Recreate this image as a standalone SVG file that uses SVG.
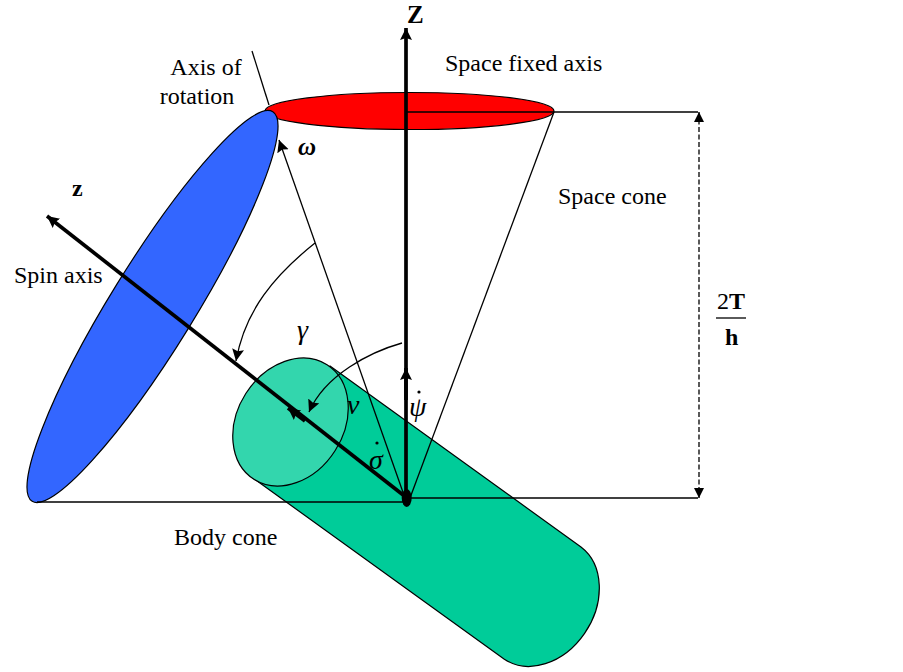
<svg xmlns="http://www.w3.org/2000/svg" width="903" height="672" viewBox="0 0 903 672">
<style>
text{font-family:"Liberation Serif","Times New Roman",serif;font-size:24px;fill:#000}
.b{font-weight:bold}
.i{font-style:italic;font-size:28px}
.s{fill:none;stroke:#000;stroke-width:1.3}
.t{fill:none;stroke:#000;stroke-width:3.7}
.o{stroke:#000;stroke-width:1.2}
</style>
<defs>
<marker id="a" markerUnits="userSpaceOnUse" markerWidth="14" markerHeight="14" refX="12" refY="6" orient="auto"><path d="M0 0L12 6L0 12L2 6Z" fill="#000"/></marker>
<marker id="d" markerUnits="userSpaceOnUse" markerWidth="12" markerHeight="12" refX="10" refY="5" orient="auto-start-reverse"><path d="M0 0L10 5L0 10Z" fill="#000"/></marker>
</defs>
<rect width="903" height="672" fill="#fff"/>
<g id="body-cylinder">
<path class="o" fill="#00CC99" d="M330 366L581 547A68 53 -57.500 0 1 504 659L253 478Z"/>
<ellipse class="o" fill="#33D6AD" cx="290.500" cy="422" rx="68" ry="53" transform="rotate(-57.500 290.500 422)"/>
</g>
<g id="space-cone-disc">
<ellipse class="o" fill="#FF0000" cx="409.500" cy="111" rx="144.500" ry="18.500"/>
</g>
<g id="body-cone-disc">
<ellipse class="o" fill="#3366FF" cx="152.500" cy="306.500" rx="229" ry="42" transform="rotate(-58.300 152.500 306.500)"/>
</g>
<g id="connectors">
<path class="s" d="M252 51L269 105"/>
<path class="s" d="M407 112H698"/>
<path class="s" d="M37 502H407"/>
<path class="s" d="M407 498H698"/>
<path class="s" d="M554 112L410 498"/>
<path class="s" d="M405 498L279 140" marker-end="url(#a)"/>
<path class="s" d="M315 243C275 275 245 310 236 361" marker-end="url(#a)"/>
<path class="s" d="M402 343C370 352 325 375 309 412" marker-end="url(#a)"/>
<path class="s" stroke-width="1.500" stroke-dasharray="5 2.500" d="M699 112V498" marker-start="url(#d)" marker-end="url(#d)"/>
<path class="t" d="M406 498V28" marker-end="url(#a)"/>
<path class="t" d="M406 400V368" marker-end="url(#a)"/>
<path class="t" d="M407 498L47 216" marker-end="url(#a)"/>
<path class="t" d="M305 421L288 408" marker-end="url(#a)"/>
<ellipse cx="406.700" cy="498" rx="5" ry="9" fill="#000"/>
</g>
<g id="labels">
<text x="206" y="75" text-anchor="middle">Axis of</text>
<text x="197" y="104" text-anchor="middle">rotation</text>
<text x="445" y="71">Space fixed axis</text>
<text x="558" y="204">Space cone</text>
<text x="14" y="283">Spin axis</text>
<text x="174" y="545">Body cone</text>
<text class="b" x="407" y="23" style="font-size:25px">Z</text>
<text class="b" x="72" y="196">z</text>
<text x="717" y="309">2<tspan class="b">T</tspan></text>
<path class="s" d="M716 318H746"/>
<text class="b" x="725" y="345">h</text>
<text class="i" x="297" y="339">γ</text>
<text class="i" x="347" y="414">ν</text>
<text class="i" x="369" y="469">σ</text>
<text class="i" x="409" y="416">ψ</text>
<text class="i" x="298" y="155" style="font-size:25px;font-weight:bold">ω</text>
<circle cx="377" cy="443" r="1.600"/>
<circle cx="419" cy="392" r="1.600"/>
</g>
</svg>
